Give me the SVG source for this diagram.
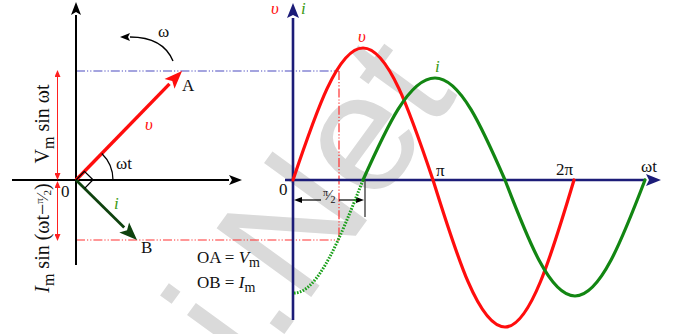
<svg xmlns="http://www.w3.org/2000/svg" width="683" height="334" viewBox="0 0 683 334">
<style>
text{font-family:"Liberation Serif","Times New Roman",serif;fill:#111}
.lbl{font-size:17px}
.it{font-style:italic}
.red{fill:#ff1010}
.grn{fill:#3a9a14}
.ax{stroke:#000;stroke-width:2;fill:none}
.nv{stroke:#1c1c78;stroke-width:2.6;fill:none}
.thinred{stroke:#ff2020;stroke-width:1;fill:none}
.dd-blue{stroke:#4a4ac0;stroke-width:1.2;stroke-dasharray:9 2 1.2 2 1.2 2;fill:none}
.dd-red{stroke:#ff3030;stroke-width:1.2;stroke-dasharray:9 2 1.2 2 1.2 2;fill:none}
.wv-red{stroke:#ff0d0d;stroke-width:3.2;fill:none;stroke-linecap:round}
.wv-grn{stroke:#128612;stroke-width:3.2;fill:none;stroke-linecap:round}
.wm{font-family:"Liberation Sans",Arial,sans-serif;font-weight:normal;fill:#dadada}
</style>
<defs>
<marker id="ahBlack" markerUnits="userSpaceOnUse" markerWidth="14" markerHeight="12" refX="0" refY="6" orient="auto" viewBox="0 0 14 12"><path d="M0,1 L13,6 L0,11 L3,6 Z" fill="#000"/></marker>
<marker id="ahNavy" markerUnits="userSpaceOnUse" markerWidth="16" markerHeight="14" refX="0" refY="7" orient="auto" viewBox="0 0 16 14"><path d="M0,1 L15,7 L0,13 L3,7 Z" fill="#1c1c78"/></marker>
<marker id="ahRed" markerUnits="userSpaceOnUse" markerWidth="19" markerHeight="16" refX="0" refY="8" orient="auto" viewBox="0 0 19 16"><path d="M0,1 L18,8 L0,15 L4,8 Z" fill="#ff0d0d"/></marker>
<marker id="ahGreen" markerUnits="userSpaceOnUse" markerWidth="19" markerHeight="16" refX="0" refY="8" orient="auto" viewBox="0 0 19 16"><path d="M0,1 L18,8 L0,15 L4,8 Z" fill="#0e420e"/></marker>
<marker id="ahSmallRed" markerUnits="userSpaceOnUse" markerWidth="7" markerHeight="6" refX="0" refY="3" orient="auto-start-reverse" viewBox="0 0 7 6"><path d="M0,0 L7,3 L0,6 Z" fill="#ff2020"/></marker>
<marker id="ahSmallBlk" markerUnits="userSpaceOnUse" markerWidth="8" markerHeight="6" refX="0" refY="3" orient="auto-start-reverse" viewBox="0 0 8 6"><path d="M0,0 L8,3 L0,6 Z" fill="#000"/></marker>
<marker id="ahArc" markerUnits="userSpaceOnUse" markerWidth="10" markerHeight="8" refX="0" refY="4" orient="auto" viewBox="0 0 10 8"><path d="M0,0 L10,4 L0,8 L2,4 Z" fill="#000"/></marker>
</defs>

<text id="watermark" class="wm" font-size="170" transform="translate(253,377) rotate(-54)">i.Net</text>

<g id="phasor-diagram">
  <g id="connectors">
    <line class="dd-blue" x1="76" y1="71" x2="339" y2="71"/>
    <line class="dd-red" x1="76" y1="240" x2="339" y2="240"/>
    <line class="dd-red" x1="339" y1="71" x2="339" y2="240"/>
    <line class="ax" x1="76" y1="265" x2="76" y2="15" marker-end="url(#ahBlack)"/>
    <line class="ax" x1="12" y1="180" x2="229" y2="180" marker-end="url(#ahBlack)"/>
    <line x1="76" y1="180" x2="169.5" y2="83.9" stroke="#ff0d0d" stroke-width="3.4" marker-end="url(#ahRed)"/>
    <line x1="76" y1="180" x2="124.2" y2="227.4" stroke="#0e420e" stroke-width="2.8" marker-end="url(#ahGreen)"/>
    <path d="M76,180 L84.4,171.4 L93,179.8 L84.6,188.4" fill="none" stroke="#000" stroke-width="1.3"/>
    <path d="M113,180 A37,37 0 0 0 101.8,153.5" fill="none" stroke="#000" stroke-width="1.3"/>
    <path d="M173,61 Q163,37 130,37" fill="none" stroke="#000" stroke-width="1.4" marker-end="url(#ahArc)"/>
    <line class="thinred" x1="57.5" y1="77" x2="57.5" y2="173" marker-start="url(#ahSmallRed)" marker-end="url(#ahSmallRed)"/>
    <line class="thinred" x1="57.5" y1="188" x2="57.5" y2="234" marker-start="url(#ahSmallRed)" marker-end="url(#ahSmallRed)"/>
  </g>
  <g id="phasor-labels">
    <text class="lbl" x="158" y="37">ω</text>
    <text class="lbl" x="182" y="91">A</text>
    <text class="lbl it red" x="145" y="130" font-size="18">υ</text>
    <text class="lbl" x="116" y="169">ωt</text>
    <text class="lbl" x="61" y="197">0</text>
    <text class="lbl it grn" x="114" y="209">i</text>
    <text class="lbl" x="141" y="253">B</text>
    <text class="lbl" x="197" y="263">OA = <tspan class="it">V</tspan><tspan font-size="14" dy="4">m</tspan></text>
    <text class="lbl" x="197" y="288">OB = <tspan class="it">I</tspan><tspan font-size="14" dy="4">m</tspan></text>
    <text font-size="20" text-anchor="middle" transform="translate(49,124) rotate(-90)">V<tspan font-size="16" dy="5">m</tspan><tspan dy="-5"> sin ωt</tspan></text>
    <text font-size="20" text-anchor="middle" transform="translate(49,238) rotate(-90)"><tspan class="it">I</tspan><tspan font-size="16" dy="5">m</tspan><tspan dy="-5"> sin (ωt−</tspan><tspan font-size="11" dy="-6">π</tspan><tspan font-size="16" dy="5">⁄</tspan><tspan font-size="11" dy="3">2</tspan><tspan dy="-2">)</tspan></text>
  </g>
</g>

<g id="waveform-graph">
  <g id="graph-axes">
    <line class="nv" x1="293" y1="320" x2="293" y2="18" marker-end="url(#ahNavy)"/>
    <line class="nv" x1="285" y1="180" x2="646" y2="180" marker-end="url(#ahNavy)"/>
    <line x1="365" y1="180" x2="365" y2="217" stroke="#444" stroke-width="1.4"/>
    <line x1="302" y1="200" x2="321" y2="200" stroke="#000" stroke-width="1.2" marker-start="url(#ahSmallBlk)"/>
    <line x1="339" y1="200" x2="356" y2="200" stroke="#000" stroke-width="1.2" marker-end="url(#ahSmallBlk)"/>
  </g>
  <g id="curves">
    <path id="curve-v" class="wv-red" d="M293,180 C315.8,112.4 337.7,48 363,48 C388.3,48 410.2,112.4 433,180 C456.5,255.3 478.9,327 505,327 C530,327 551.5,255.3 574,180"/>
    <path id="curve-i-dotted" d="M294,293 C318.3,293 340.2,237.9 363,180" fill="none" stroke="#1aa01a" stroke-width="3" stroke-dasharray="1.6 1.4"/>
    <path id="curve-i" class="wv-grn" d="M363,180 C386.5,127.7 408.9,78 435,78 C460.3,78 482.2,127.7 505,180 C527.8,239.4 549.7,296 575,296 C600.3,296 622.2,239.4 645,180"/>
  </g>
  <g id="graph-labels">
    <text class="lbl it red" x="271" y="14" font-size="18">υ</text>
    <text class="lbl it grn" x="301" y="14">i</text>
    <text class="lbl" x="279" y="195">0</text>
    <text class="lbl it red" x="358" y="42" font-size="18">υ</text>
    <text class="lbl it grn" x="435" y="72">i</text>
    <text class="lbl" x="436" y="176">π</text>
    <text class="lbl" x="556" y="175">2π</text>
    <text class="lbl" x="641" y="172">ωt</text>
    <text x="323" y="200" font-size="15"><tspan font-size="10" dy="-4">π</tspan><tspan dy="4">⁄</tspan><tspan font-size="10" dy="3">2</tspan></text>
  </g>
</g>
</svg>
